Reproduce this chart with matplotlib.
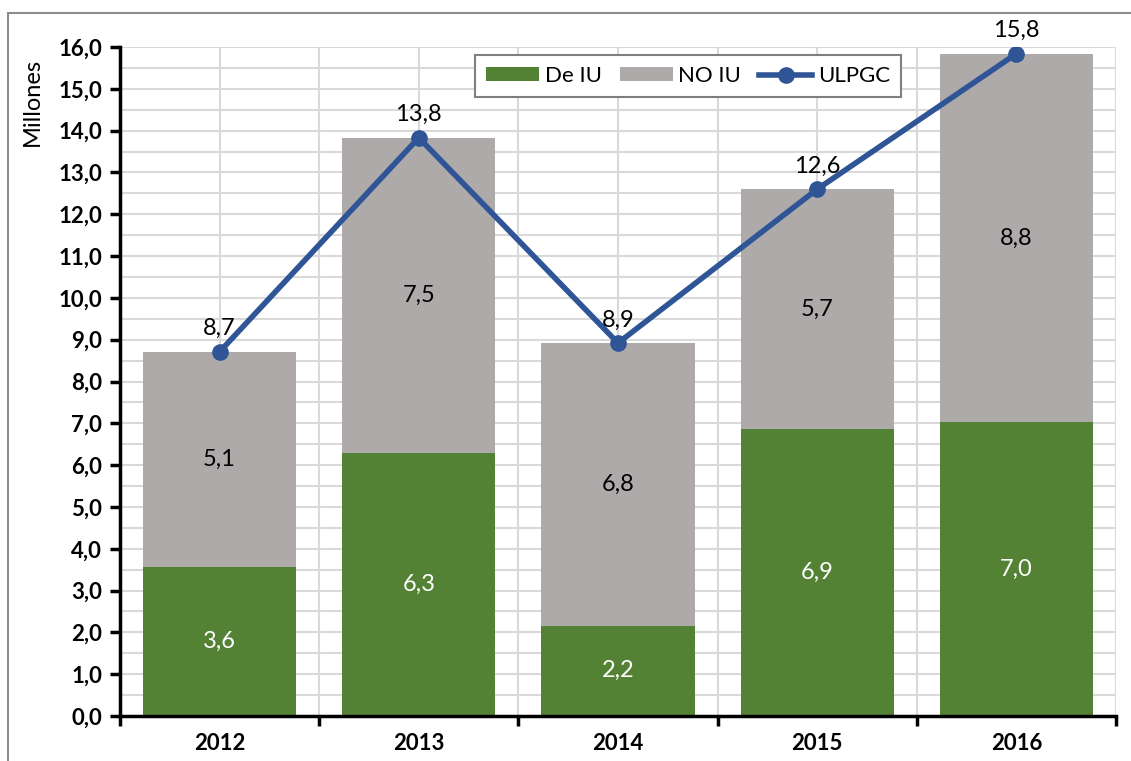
import matplotlib.pyplot as plt
from matplotlib.patches import Rectangle
from matplotlib.ticker import MultipleLocator

plt.rcParams['font.family'] = ['Lato', 'DejaVu Sans']

years = ['2012', '2013', '2014', '2015', '2016']
de_iu = [3.57, 6.30, 2.16, 6.87, 7.03]
no_iu = [5.14, 7.53, 6.77, 5.73, 8.81]
ulpgc = [8.71, 13.83, 8.92, 12.60, 15.84]

green = '#548235'
grey = '#AEAAAA'
blue = '#2F5597'


def fmt(v):
    return f"{v:.1f}".replace('.', ',')


fig = plt.figure(figsize=(11.31, 7.61), dpi=100)
ax = fig.add_axes([120 / 1131, 45 / 761, 996 / 1131, 669 / 761])

x = list(range(len(years)))
b1 = ax.bar(x, de_iu, width=0.77, color=green, zorder=2, label='De IU')
b2 = ax.bar(x, no_iu, width=0.77, bottom=de_iu, color=grey, zorder=2, label='NO IU')
ln, = ax.plot(x, ulpgc, color=blue, lw=4, marker='o', ms=11, zorder=3, label='ULPGC')

for i in x:
    ax.text(i, de_iu[i] / 2, fmt(de_iu[i]), ha='center', va='center',
            color='white', fontsize=17, zorder=4)
    ax.text(i, de_iu[i] + no_iu[i] / 2, fmt(no_iu[i]), ha='center', va='center',
            color='black', fontsize=17, zorder=4)
    ax.text(i, ulpgc[i] + 0.3, fmt(ulpgc[i]), ha='center', va='bottom',
            color='black', fontsize=17, zorder=4)

ax.set_xlim(-0.5, 4.5)
ax.set_ylim(0, 16)
ax.yaxis.set_major_locator(MultipleLocator(1))
ax.yaxis.set_minor_locator(MultipleLocator(0.5))
ax.set_yticklabels([fmt(v) for v in ax.get_yticks()])
ax.set_xticks(x)
ax.set_xticklabels(years)
ax.set_xticks([i - 0.5 for i in range(6)], minor=True)

ax.grid(True, which='both', axis='y', color='#D9D9D9', lw=1.5, zorder=0)
ax.grid(True, which='both', axis='x', color='#D9D9D9', lw=1.5, zorder=0)

for s in ['top', 'right']:
    ax.spines[s].set_visible(False)
for s in ['left', 'bottom']:
    ax.spines[s].set_linewidth(2.5)

ax.tick_params(axis='x', which='major', length=0, pad=12)
ax.tick_params(axis='x', which='minor', length=7, width=2.5)
ax.tick_params(axis='y', which='major', length=7, width=2.5, pad=6)
ax.tick_params(axis='y', which='minor', length=0)
for lbl in ax.get_xticklabels() + ax.get_yticklabels():
    lbl.set_fontweight('bold')
    lbl.set_fontsize(16)

fig.text(32 / 1131, 1 - 102 / 761, 'Millones', rotation=90, ha='center',
         va='center', fontsize=17)

leg = ax.legend(handles=[b1, b2, ln], loc='center',
                bbox_to_anchor=(688 / 1131, 1 - 76 / 761),
                bbox_transform=fig.transFigure, ncol=3, fontsize=16,
                fancybox=False, framealpha=1, edgecolor='#7F7F7F',
                handlelength=2.4, handleheight=0.6, columnspacing=0.8,
                handletextpad=0.25, borderpad=0.5, borderaxespad=0)
leg.get_frame().set_linewidth(1.5)

fig.patches.append(Rectangle((7.5 / 1131, -0.1), 1.2, 1.1 - 13 / 761,
                             transform=fig.transFigure, fill=False,
                             edgecolor='#8C8C8C', lw=1.5))

fig.savefig('out.png', dpi=100)
